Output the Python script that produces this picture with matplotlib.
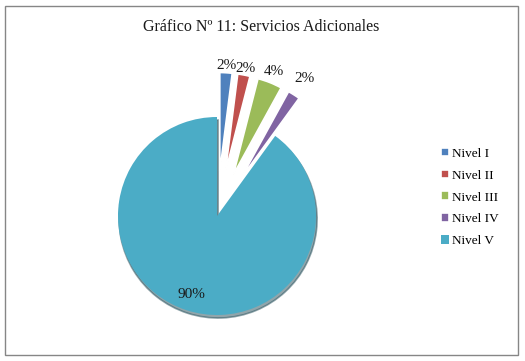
import numpy as np
import matplotlib
matplotlib.use("Agg")
import matplotlib.pyplot as plt
from matplotlib.patches import Rectangle, Shadow

plt.rcParams['font.family'] = ['Liberation Serif', 'DejaVu Serif']

title = "Gráfico Nº 11: Servicios Adicionales"
labels = ["Nivel I", "Nivel II", "Nivel III", "Nivel IV", "Nivel V"]
values = [2, 2, 4, 2, 90]
colors = ["#4F81BD", "#C0504D", "#9BBB59", "#8064A2", "#4BACC6"]
explode = [0.45, 0.45, 0.45, 0.45, 0.0]
# how far each percent label sits from its (exploded) wedge apex, in radii
label_dist = [1.07, 1.07, 1.12, 1.2, 0.83]

W, H = 525, 361
fig = plt.figure(figsize=(W / 100, H / 100), dpi=100)
ax = fig.add_axes([0, 0, 1, 1])

wedges, texts, autotexts = ax.pie(
    values, colors=colors, explode=explode, startangle=90, counterclock=False,
    autopct='%1.0f%%', radius=1.0,
    wedgeprops=dict(edgecolor='white', linewidth=1.2),
    textprops=dict(fontsize=11, color='#1a1a1a'))

# soft shadow only under the big slice
wedges[4].set_edgecolor('none')
sh = Shadow(wedges[4], 0.008, -0.022, shade=0.55)
sh.set_zorder(wedges[4].get_zorder() - 0.1)
ax.add_patch(sh)

# move the percent labels, using each wedge's own geometry
for w, t, d in zip(wedges, autotexts, label_dist):
    mid = np.deg2rad((w.theta1 + w.theta2) / 2)
    cx, cy = w.center
    t.set_position((cx + d * np.cos(mid), cy + d * np.sin(mid)))
    t.set_ha('center')
    t.set_va('center')

# one radius = 99 px, pie centre at (217, 216) px from top left
r_px = 99.0
cx_px, cy_px = 217, 216
ax.set_aspect('equal', adjustable='datalim')
ax.set_xlim(-cx_px / r_px, (W - cx_px) / r_px)
ax.set_ylim(-(H - cy_px) / r_px, cy_px / r_px)
ax.axis('off')

fig.text(261 / W, 1 - 27 / H, title, ha='center', va='center', fontsize=11.5,
         color='#1a1a1a')

ax.legend(wedges, labels, loc='upper left', bbox_to_anchor=(434 / W, 1 - 141 / H),
          bbox_transform=fig.transFigure, frameon=False, fontsize=9.5,
          handlelength=0.65, handleheight=0.65, handletextpad=0.25,
          labelspacing=0.75, borderpad=0)

fig.patches.append(Rectangle((5 / W, 6 / H), 513 / W, 349 / H,
                             transform=fig.transFigure, fill=False,
                             edgecolor='#868686', linewidth=1))

fig.savefig("out.png", dpi=100)
